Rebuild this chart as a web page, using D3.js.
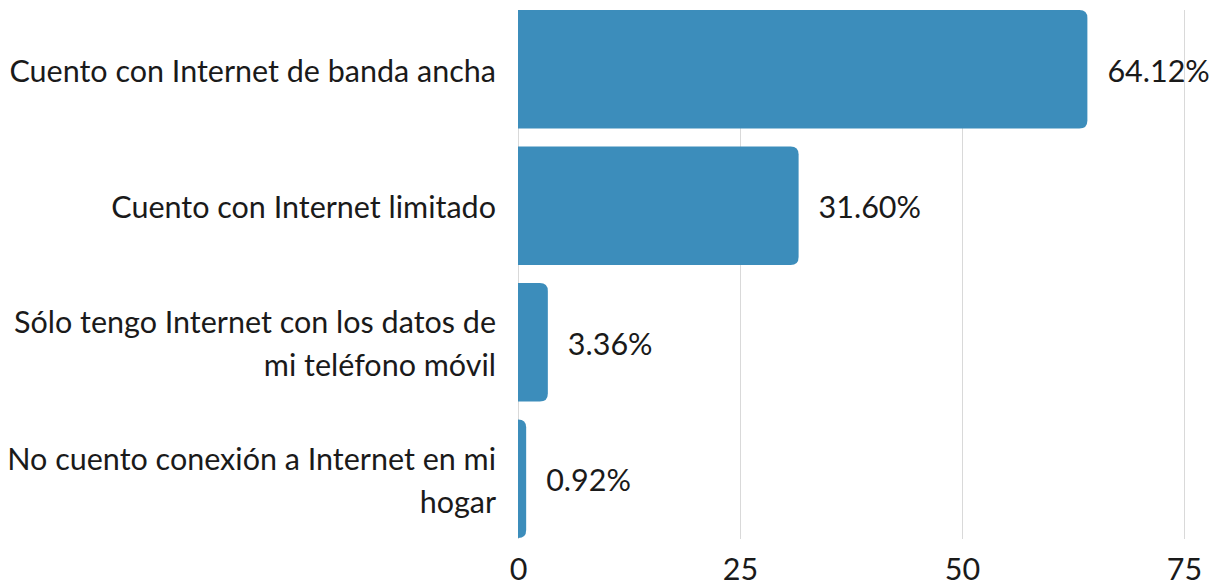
<!DOCTYPE html>
<html>
<head>
<meta charset="utf-8">
<script src="https://cdn.jsdelivr.net/npm/d3@7"></script>
<style>
  html, body { margin: 0; padding: 0; background: #fff; }
  svg { display: block; }
  text { font-family: Lato, "Noto Sans", sans-serif; fill: #1a1a1a; }
</style>
</head>
<body>
<svg id="chart" width="1223" height="587"></svg>
<script>
const categories = [
  ["Cuento con Internet de banda ancha"],
  ["Cuento con Internet limitado"],
  ["Sólo tengo Internet con los datos de", "mi teléfono móvil"],
  ["No cuento conexión a Internet en mi", "hogar"]
];
const values = [64.12, 31.60, 3.36, 0.92];
const valueLabels = ["64.12%", "31.60%", "3.36%", "0.92%"];
const tickValues = [0, 25, 50, 75];

const W = 1223, H = 587;
const margin = { left: 518, right: 39, top: 10, bottom: 49 };
const fontSize = 30.5;
const barColor = "#3c8dbb";
const gridColor = "#d9d9d9";

const svg = d3.select("#chart");

const x = d3.scaleLinear().domain([0, 75]).range([margin.left, W - margin.right]);
const y = d3.scaleBand().domain(d3.range(values.length))
  .range([margin.top, H - margin.bottom]).paddingInner(0.132).paddingOuter(0);

// gridlines
svg.append("g").selectAll("line").data(tickValues).join("line")
  .attr("x1", d => x(d)).attr("x2", d => x(d))
  .attr("y1", margin.top).attr("y2", H - margin.bottom + 1)
  .attr("stroke", gridColor).attr("stroke-width", 1)
  .attr("shape-rendering", "crispEdges");

// bars: square left, rounded right
function barPath(x0, x1, y0, h, r) {
  const w = x1 - x0;
  r = Math.min(r, w, h / 2);
  return `M${x0},${y0} H${x1 - r} Q${x1},${y0} ${x1},${y0 + r} V${y0 + h - r} Q${x1},${y0 + h} ${x1 - r},${y0 + h} H${x0} Z`;
}
svg.append("g").selectAll("path").data(values).join("path")
  .attr("d", (d, i) => barPath(x(0), x(d), y(i), y.bandwidth(), 8))
  .attr("fill", barColor);

// value labels
svg.append("g").selectAll("text").data(valueLabels).join("text")
  .attr("x", (d, i) => x(values[i]) + 20)
  .attr("y", (d, i) => y(i) + y.bandwidth() / 2 + 2)
  .attr("dy", "0.35em")
  .attr("font-size", fontSize)
  .text(d => d);

// category labels
const lineH = 43;
const cat = svg.append("g").selectAll("text").data(categories).join("text")
  .attr("text-anchor", "end")
  .attr("font-size", fontSize)
  .attr("y", (d, i) => y(i) + y.bandwidth() / 2 + 2 - (d.length - 1) * lineH / 2);
cat.selectAll("tspan").data(d => d).join("tspan")
  .attr("x", 496)
  .attr("dy", (d, j) => j === 0 ? "0.35em" : lineH)
  .text(d => d);

// x axis tick labels
const xAxis = d3.axisBottom(x).tickValues(tickValues).tickSize(0).tickPadding(0)
  .tickFormat(d3.format("d"));
const gx = svg.append("g").attr("transform", `translate(0, ${H - margin.bottom})`).call(xAxis);
gx.select(".domain").remove();
gx.selectAll("text")
  .attr("font-size", fontSize)
  .attr("font-family", null)
  .attr("fill", "#1a1a1a")
  .attr("y", 42)
  .attr("dy", "0");
</script>
</body>
</html>
